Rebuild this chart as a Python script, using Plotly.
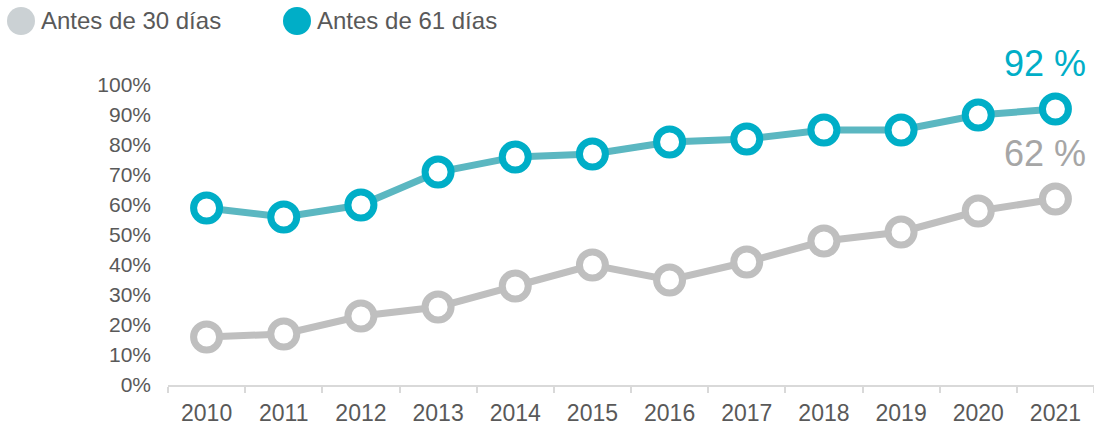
import plotly.graph_objects as go

years = ["2010", "2011", "2012", "2013", "2014", "2015",
         "2016", "2017", "2018", "2019", "2020", "2021"]
antes_30 = [16, 17, 23, 26, 33, 40, 35, 41, 48, 51, 58, 62]
antes_61 = [59, 56, 60, 71, 76, 77, 81, 82, 85, 85, 90, 92]
series_names = ["Antes de 30 días", "Antes de 61 días"]

W, H = 1094, 427
L, R, T, B = 168, 0, 85, 42
FONT = "Liberation Sans, Arial, sans-serif"
TEXT = "#595959"
GRAY_LINE = "#BFBFBF"
GRAY_KEY = "#CBD1D4"
TEAL_LINE = "#5BB7C1"
TEAL = "#00AEC7"
GRAY_LABEL = "#A6A6A6"

pw, ph = W - L - R, H - T - B


def px_x(x):
    return (x - L) / pw


def px_y(y):
    return (H - B - y) / ph


fig = go.Figure()

for vals, line_col, mk_col, name in [
    (antes_30, GRAY_LINE, GRAY_LINE, series_names[0]),
    (antes_61, TEAL_LINE, TEAL, series_names[1]),
]:
    fig.add_trace(go.Scatter(
        x=years, y=vals, name=name, mode="lines+markers",
        line=dict(color=line_col, width=7),
        marker=dict(size=26, color="white", line=dict(color=mk_col, width=7)),
        cliponaxis=False, showlegend=False,
    ))

# end-of-series value labels (category axis: position by index)
last = len(years) - 1
for vals, col in [(antes_61, TEAL), (antes_30, GRAY_LABEL)]:
    fig.add_annotation(x=last, y=vals[-1], text=f"{vals[-1]} %",
                       showarrow=False, xanchor="center", yanchor="middle",
                       xshift=-10, yshift=46,
                       font=dict(family=FONT, size=36, color=col))

# legend keys drawn as circles with text beside them
shapes = []
for cx, col, label, tx in [(21, GRAY_KEY, series_names[0], 39),
                           (297, TEAL, series_names[1], 315)]:
    shapes.append(dict(type="circle", xref="paper", yref="paper",
                       xsizemode="pixel", ysizemode="pixel",
                       xanchor=px_x(cx), yanchor=px_y(21),
                       x0=-14, x1=14, y0=-14, y1=14,
                       fillcolor=col, line=dict(width=0)))
    fig.add_annotation(xref="paper", yref="paper", x=px_x(tx), y=px_y(21),
                       text=label, showarrow=False, xanchor="left",
                       yanchor="middle",
                       font=dict(family=FONT, size=24, color=TEXT))

fig.update_layout(
    width=W, height=H,
    margin=dict(l=L, r=R, t=T, b=B, pad=0),
    paper_bgcolor="white", plot_bgcolor="white",
    font=dict(family=FONT, color=TEXT),
    shapes=shapes,
    xaxis=dict(type="category", range=[-0.5, 11.5], tickson="boundaries",
               ticks="outside", ticklen=6, tickcolor="#D9D9D9", tickwidth=2,
               showline=True, linecolor="#D9D9D9", linewidth=2,
               showgrid=False, zeroline=False, ticklabelstandoff=6,
               tickfont=dict(family=FONT, size=23, color=TEXT)),
    yaxis=dict(range=[0, 100], dtick=10, ticksuffix="%", showgrid=False,
               zeroline=False, showline=False, ticks="",
               ticklabelstandoff=16,
               tickfont=dict(family=FONT, size=21, color=TEXT)),
)

fig.write_html("out.html")
